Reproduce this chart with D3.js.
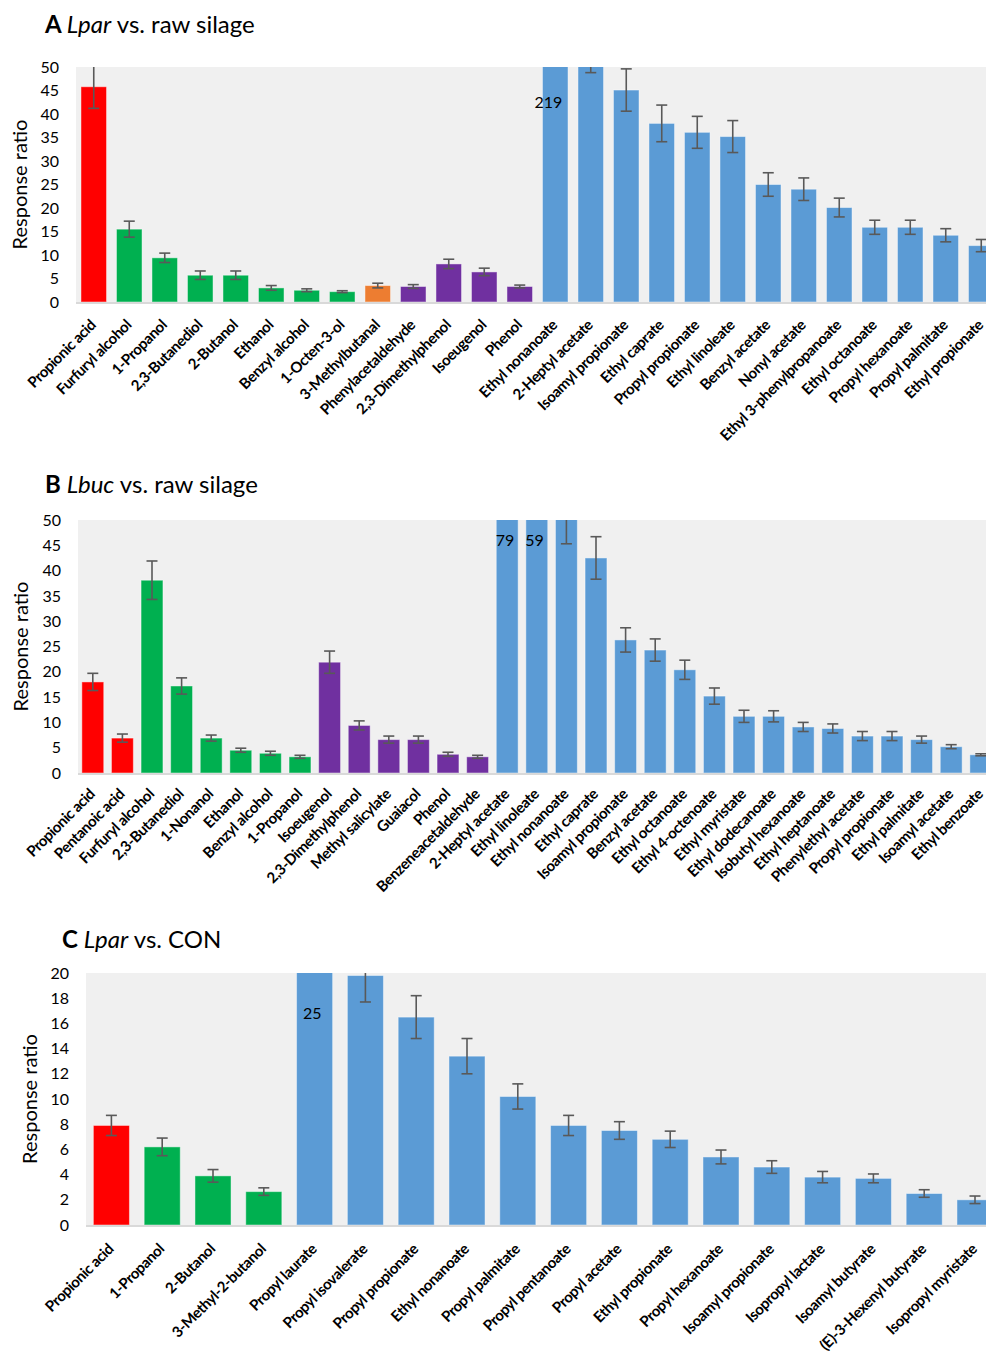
<!DOCTYPE html>
<html>
<head>
<meta charset="utf-8">
<script src="https://cdn.jsdelivr.net/npm/d3@7"></script>
<style>
  body { margin: 0; background: #fff; }
  svg { font-family: Lato, "Open Sans", sans-serif; }
</style>
</head>
<body>
<script>
// colours per compound class
var groupColors = {acid: "#ff0000", alcohol: "#00b050", aldehyde: "#ed7d31", aromatic: "#7030a0", ester: "#5b9bd5"};

// ---- panel A : Lpar vs. raw silage
var namesA = ["Propionic acid", "Furfuryl alcohol", "1-Propanol", "2,3-Butanediol", "2-Butanol", "Ethanol",
	"Benzyl alcohol", "1-Octen-3-ol", "3-Methylbutanal", "Phenylacetaldehyde", "2,3-Dimethylphenol", "Isoeugenol",
	"Phenol", "Ethyl nonanoate", "2-Heptyl acetate", "Isoamyl propionate", "Ethyl caprate", "Propyl propionate",
	"Ethyl linoleate", "Benzyl acetate", "Nonyl acetate", "Ethyl 3-phenylpropanoate", "Ethyl octanoate",
	"Propyl hexanoate", "Propyl palmitate", "Ethyl propionate"];
var valuesA = [45.8, 15.5, 9.4, 5.7, 5.7, 3.0, 2.5, 2.2, 3.5, 3.3, 8.1, 6.4, 3.3,
	219, 52, 45.1, 38.0, 36.1, 35.2, 25.0, 24.0, 20.1, 15.9, 15.9, 14.2, 12.0];
var errorsA = [4.6, 1.7, 1.0, 0.9, 0.9, 0.5, 0.3, 0.2, 0.5, 0.4, 1.0, 0.8, 0.3,
	10, 3.2, 4.5, 3.9, 3.4, 3.4, 2.5, 2.4, 2.0, 1.5, 1.5, 1.4, 1.3];
var groupsA = ["acid", "alcohol", "alcohol", "alcohol", "alcohol", "alcohol", "alcohol", "alcohol", "aldehyde",
	"aromatic", "aromatic", "aromatic", "aromatic",
	"ester", "ester", "ester", "ester", "ester", "ester", "ester", "ester", "ester", "ester", "ester", "ester", "ester"];
var ticksA = [0, 5, 10, 15, 20, 25, 30, 35, 40, 45, 50];
var labelsA = [{name: "Ethyl nonanoate", text: "219"}];

// ---- panel B : Lbuc vs. raw silage
var namesB = ["Propionic acid", "Pentanoic acid", "Furfuryl alcohol", "2,3-Butanediol", "1-Nonanol", "Ethanol",
	"Benzyl alcohol", "1-Propanol", "Isoeugenol", "2,3-Dimethylphenol", "Methyl salicylate", "Guaiacol", "Phenol",
	"Benzeneacetaldehyde", "2-Heptyl acetate", "Ethyl linoleate", "Ethyl nonanoate", "Ethyl caprate",
	"Isoamyl propionate", "Benzyl acetate", "Ethyl octanoate", "Ethyl 4-octenoate", "Ethyl myristate",
	"Ethyl dodecanoate", "Isobutyl hexanoate", "Ethyl heptanoate", "Phenylethyl acetate", "Propyl propionate",
	"Ethyl palmitate", "Isoamyl acetate", "Ethyl benzoate"];
var valuesB = [18.0, 6.9, 38.1, 17.2, 6.9, 4.5, 3.9, 3.2, 21.9, 9.4, 6.6, 6.6, 3.7, 3.2,
	79, 59, 52, 42.5, 26.3, 24.3, 20.4, 15.2, 11.2, 11.2, 9.1, 8.8, 7.3, 7.3, 6.6, 5.2, 3.6];
var errorsB = [1.7, 0.8, 3.8, 1.6, 0.6, 0.4, 0.4, 0.3, 2.2, 0.9, 0.7, 0.7, 0.4, 0.3,
	5, 5, 6.7, 4.2, 2.4, 2.2, 1.9, 1.6, 1.2, 1.1, 0.9, 0.9, 0.9, 0.9, 0.7, 0.4, 0.2];
var groupsB = ["acid", "acid", "alcohol", "alcohol", "alcohol", "alcohol", "alcohol", "alcohol",
	"aromatic", "aromatic", "aromatic", "aromatic", "aromatic", "aromatic",
	"ester", "ester", "ester", "ester", "ester", "ester", "ester", "ester", "ester", "ester", "ester", "ester",
	"ester", "ester", "ester", "ester", "ester"];
var ticksB = [0, 5, 10, 15, 20, 25, 30, 35, 40, 45, 50];
var labelsB = [{name: "2-Heptyl acetate", text: "79"}, {name: "Ethyl linoleate", text: "59"}];

// ---- panel C : Lpar vs. CON
var namesC = ["Propionic acid", "1-Propanol", "2-Butanol", "3-Methyl-2-butanol", "Propyl laurate",
	"Propyl isovalerate", "Propyl propionate", "Ethyl nonanoate", "Propyl palmitate", "Propyl pentanoate",
	"Propyl acetate", "Ethyl propionate", "Propyl hexanoate", "Isoamyl propionate", "Isopropyl lactate",
	"Isoamyl butyrate", "(E)-3-Hexenyl butyrate", "Isopropyl myristate"];
var valuesC = [7.9, 6.2, 3.9, 2.65, 25, 19.8, 16.5, 13.4, 10.2, 7.9, 7.5, 6.8, 5.4, 4.6, 3.8, 3.7, 2.5, 2.0];
var errorsC = [0.8, 0.7, 0.5, 0.3, 2, 2.1, 1.7, 1.4, 1.0, 0.8, 0.7, 0.65, 0.55, 0.5, 0.45, 0.35, 0.3, 0.3];
var groupsC = ["acid", "alcohol", "alcohol", "alcohol", "ester", "ester", "ester", "ester", "ester", "ester",
	"ester", "ester", "ester", "ester", "ester", "ester", "ester", "ester"];
var ticksC = [0, 2, 4, 6, 8, 10, 12, 14, 16, 18, 20];
var labelsC = [{name: "Propyl laurate", text: "25"}];

var svg = d3.select("body").append("svg").attr("width", 986).attr("height", 1355);

function drawPanel(p)
{
	var g = svg.append("g");
	var data = p.names.map(function(n, i) {
		return {name: n, value: p.values[i], err: p.errors[i], group: p.groups[i]};
	});

	var x = d3.scaleBand()
		.domain(p.names)
		.range([p.left, p.left + p.step * p.names.length])
		.paddingInner(p.pad)
		.paddingOuter(p.pad / 2);

	var y = d3.scaleLinear()
		.domain([0, p.ticks[p.ticks.length - 1]])
		.range([p.bottom, p.top]);

	// title
	var title = g.append("text")
		.attr("x", p.titleX)
		.attr("y", p.titleY)
		.attr("font-size", 24)
		.attr("fill", "#000");
	title.append("tspan").attr("font-weight", "bold").text(p.letter + " ");
	title.append("tspan").attr("font-style", "italic").text(p.strain);
	title.append("tspan").text(" vs. " + p.ref);

	// plot area
	g.append("rect")
		.attr("x", p.left)
		.attr("y", p.top)
		.attr("width", 986 - p.left)
		.attr("height", p.bottom - p.top)
		.attr("fill", "#f0f0f0");

	var clipId = "clip" + p.letter;
	g.append("clipPath").attr("id", clipId)
		.append("rect")
		.attr("x", p.left)
		.attr("y", p.top)
		.attr("width", 986 - p.left)
		.attr("height", p.bottom - p.top);

	var plot = g.append("g").attr("clip-path", "url(#" + clipId + ")");

	plot.selectAll(".bar").data(data)
		.enter().append("rect")
		.attr("class", "bar")
		.attr("x", function(d) { return x(d.name); })
		.attr("y", function(d) { return y(d.value); })
		.attr("width", x.bandwidth())
		.attr("height", function(d) { return y(0) - y(d.value); })
		.attr("fill", function(d) { return groupColors[d.group]; })
		.attr("stroke", "#ffffff")
		.attr("stroke-opacity", 0.45)
		.attr("stroke-width", 1);

	// error bars
	var errs = plot.selectAll(".err").data(data)
		.enter().append("g")
		.attr("class", "err")
		.attr("transform", function(d) { return "translate(" + (x(d.name) + x.bandwidth() / 2) + ",0)"; })
		.attr("stroke", "#595959")
		.attr("stroke-width", 1.6);
	errs.append("line")
		.attr("y1", function(d) { return y(d.value + d.err); })
		.attr("y2", function(d) { return y(d.value - d.err); });
	errs.append("line")
		.attr("x1", -5.5).attr("x2", 5.5)
		.attr("y1", function(d) { return y(d.value + d.err); })
		.attr("y2", function(d) { return y(d.value + d.err); });
	errs.append("line")
		.attr("x1", -5.5).attr("x2", 5.5)
		.attr("y1", function(d) { return y(d.value - d.err); })
		.attr("y2", function(d) { return y(d.value - d.err); });

	// values of the bars that run off the top
	g.selectAll(".over").data(p.labels)
		.enter().append("text")
		.attr("class", "over")
		.attr("x", function(d) { return x(d.name) + x.bandwidth() / 2 + 7; })
		.attr("y", y(p.labelAt))
		.attr("dy", "0.35em")
		.attr("text-anchor", "end")
		.attr("font-size", 16)
		.attr("fill", "#000")
		.text(function(d) { return d.text; });

	// base line
	g.append("line")
		.attr("x1", p.left).attr("x2", 986)
		.attr("y1", p.bottom + 1).attr("y2", p.bottom + 1)
		.attr("stroke", "#d9d9d9")
		.attr("stroke-width", 2);

	// y axis
	var yAxis = g.append("g")
		.attr("transform", "translate(" + p.left + ",0)")
		.call(d3.axisLeft(y).tickValues(p.ticks).tickSize(0).tickPadding(17));
	yAxis.select(".domain").remove();
	yAxis.selectAll("text")
		.attr("font-family", "Lato, sans-serif")
		.attr("font-size", 16)
		.attr("fill", "#000");

	g.append("text")
		.attr("transform", "translate(" + p.yTitleX + "," + ((p.top + p.bottom) / 2) + ") rotate(-90)")
		.attr("text-anchor", "middle")
		.attr("dy", "0.35em")
		.attr("font-size", 20)
		.attr("fill", "#000")
		.text("Response ratio");

	// x axis labels
	var xAxis = g.append("g")
		.attr("transform", "translate(0," + p.bottom + ")")
		.call(d3.axisBottom(x).tickSize(0));
	xAxis.select(".domain").remove();
	xAxis.selectAll("text")
		.attr("font-family", "Lato, sans-serif")
		.attr("font-size", 15)
		.attr("font-weight", "bold")
		.attr("letter-spacing", -0.4)
		.attr("fill", "#000")
		.attr("text-anchor", "end")
		.attr("y", 0)
		.attr("dy", 0)
		.attr("transform", "translate(3," + p.labelDrop + ") rotate(-45)");
}

drawPanel({letter: "A", strain: "Lpar", ref: "raw silage", names: namesA, values: valuesA, errors: errorsA,
	groups: groupsA, ticks: ticksA, labels: labelsA, labelAt: 42.5,
	left: 76, step: 35.5, pad: 0.28, top: 67, bottom: 302, titleX: 45, titleY: 33, yTitleX: 20, labelDrop: 24});

drawPanel({letter: "B", strain: "Lbuc", ref: "raw silage", names: namesB, values: valuesB, errors: errorsB,
	groups: groupsB, ticks: ticksB, labels: labelsB, labelAt: 45.9,
	left: 78, step: 29.6, pad: 0.26, top: 520, bottom: 773, titleX: 45, titleY: 493, yTitleX: 21, labelDrop: 22});

drawPanel({letter: "C", strain: "Lpar", ref: "CON", names: namesC, values: valuesC, errors: errorsC,
	groups: groupsC, ticks: ticksC, labels: labelsC, labelAt: 16.8,
	left: 86, step: 50.8, pad: 0.29, top: 973, bottom: 1225, titleX: 62, titleY: 948, yTitleX: 30, labelDrop: 25});
</script>
</body>
</html>
